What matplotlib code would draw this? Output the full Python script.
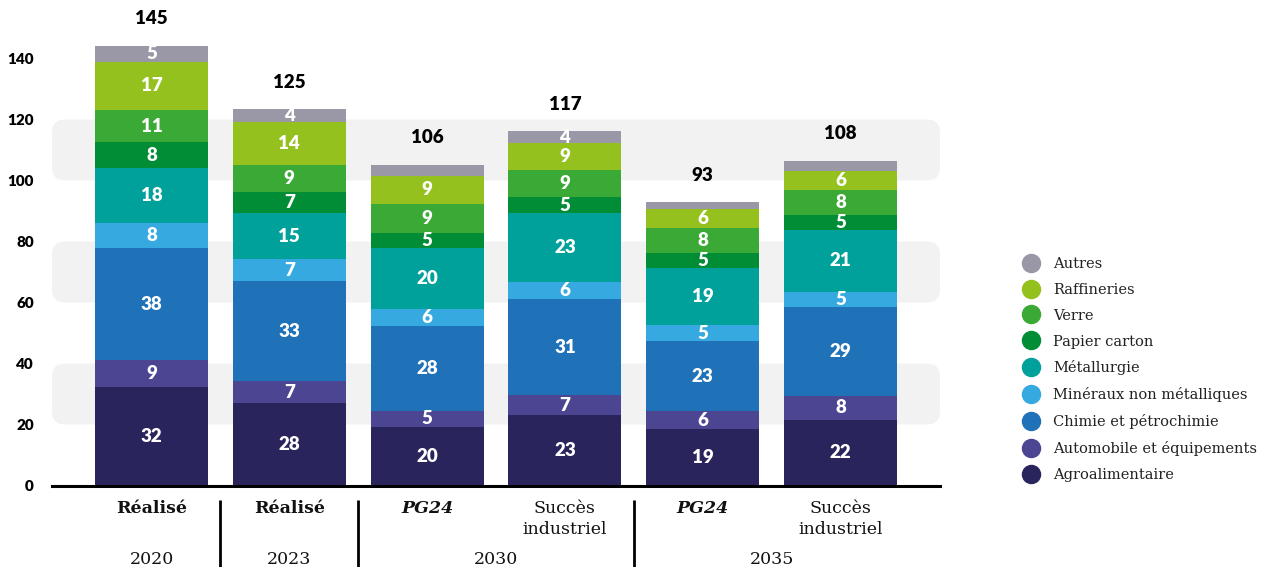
import matplotlib
matplotlib.use("Agg")
import matplotlib.pyplot as plt
from matplotlib.patches import FancyBboxPatch
from matplotlib.lines import Line2D
import matplotlib.transforms as mtransforms

# ---------------- data ----------------
categories = ["Réalisé", "Réalisé", "PG24", "Succès\nindustriel", "PG24", "Succès\nindustriel"]
years = ["2020", "2023", "2030", "2035"]
year_pos = [0, 1, 2.5, 4.5]

series_names = ["Agroalimentaire", "Automobile et équipements", "Chimie et pétrochimie",
                "Minéraux non métalliques", "Métallurgie", "Papier carton", "Verre",
                "Raffineries", "Autres"]
colors = ["#2a245c", "#4b4592", "#1f71b8", "#36a9e1", "#00a19a", "#008d36",
          "#3ba935", "#95c11f", "#9a98a6"]

agro = [32.2, 27.2, 19.3, 23.0, 18.4, 21.6]
auto = [8.8, 6.9, 5.2, 6.6, 5.9, 7.9]
chimie = [36.8, 33.1, 27.9, 31.5, 23.0, 28.9]
mineraux = [8.2, 6.9, 5.6, 5.6, 5.2, 5.2]
metal = [18.0, 15.1, 20.0, 22.6, 18.7, 20.3]
papier = [8.5, 6.9, 4.9, 5.2, 4.9, 4.9]
verre = [10.7, 8.9, 9.5, 8.9, 8.2, 8.2]
raff = [15.7, 14.2, 9.1, 8.8, 6.2, 6.2]
autres = [5.2, 4.2, 3.7, 4.0, 2.3, 3.3]

agro_lbl = [32, 28, 20, 23, 19, 22]
auto_lbl = [9, 7, 5, 7, 6, 8]
chimie_lbl = [38, 33, 28, 31, 23, 29]
mineraux_lbl = [8, 7, 6, 6, 5, 5]
metal_lbl = [18, 15, 20, 23, 19, 21]
papier_lbl = [8, 7, 5, 5, 5, 5]
verre_lbl = [11, 9, 9, 9, 8, 8]
raff_lbl = [17, 14, 9, 9, 6, 6]
autres_lbl = [5, 4, None, 4, None, None]
totals = [145, 125, 106, 117, 93, 108]

yticks = [0, 20, 40, 60, 80, 100, 120, 140]
bands = [(20, 40), (60, 80), (100, 120)]

series = [agro, auto, chimie, mineraux, metal, papier, verre, raff, autres]
labels = [agro_lbl, auto_lbl, chimie_lbl, mineraux_lbl, metal_lbl, papier_lbl,
          verre_lbl, raff_lbl, autres_lbl]

# ---------------- figure ----------------
NUM = "Lato"
SERIF = "DejaVu Serif"

fig = plt.figure(figsize=(12.69, 5.67), dpi=100)
ax = fig.add_axes([52 / 1269, 81.5 / 567, (940 - 52) / 1269, 472.75 / 567])
x = list(range(len(categories)))
XMIN, XMAX = -0.722, 5.722
ax.set_xlim(XMIN, XMAX)
ax.set_ylim(0, 155)

# background bands with rounded corners
rad_x = 13 / 137.8
rad_y = 13 / 3.05
for lo, hi in bands:
    p = FancyBboxPatch((XMIN, lo), XMAX - XMIN, hi - lo,
                       boxstyle=f"round,pad=0,rounding_size={rad_x}",
                       mutation_aspect=rad_y / rad_x,
                       facecolor="#f2f2f2", edgecolor="none", zorder=0)
    ax.add_patch(p)

# stacked bars
bottom = [0.0] * len(x)
for vals, lbls, col, name in zip(series, labels, colors, series_names):
    ax.bar(x, vals, width=0.82, bottom=bottom, color=col, label=name, zorder=2)
    for i, (v, l) in enumerate(zip(vals, lbls)):
        if l is not None:
            ax.text(x[i], bottom[i] + v / 2, str(l), ha="center", va="center",
                    color="white", fontsize=13.5, fontweight="heavy", family=NUM, zorder=3)
    bottom = [b + v for b, v in zip(bottom, vals)]

# totals
for i, t in enumerate(totals):
    ax.annotate(str(t), xy=(x[i], bottom[i]), xytext=(0, 19.5), textcoords="offset points",
                ha="center", va="center", fontsize=13.5, fontweight="heavy",
                family=NUM, color="black")

# axes styling
for s in ["top", "right", "left"]:
    ax.spines[s].set_visible(False)
ax.spines["bottom"].set_linewidth(2.2)
ax.spines["bottom"].set_color("black")
ax.set_yticks(yticks)
ax.set_yticklabels([str(t) for t in yticks], fontsize=11, fontweight="heavy", family=NUM)
ax.tick_params(axis="y", length=0, pad=13)
ax.set_xticks(x)
ax.set_xticklabels(categories, family=SERIF, fontsize=12.5, linespacing=1.3)
ax.tick_params(axis="x", length=0, pad=10.5)
for lab, cat in zip(ax.get_xticklabels(), categories):
    lab.set_color("#111111")
    if cat == "Réalisé":
        lab.set_fontweight("bold")
    elif cat == "PG24":
        lab.set_fontweight("bold")
        lab.set_fontstyle("italic")

# years row
trans = mtransforms.blended_transform_factory(ax.transData, ax.transAxes)
for yp, yr in zip(year_pos, years):
    ax.text(yp, -(559 - 485.5) / 472.75, yr, transform=trans, ha="center", va="center",
            family=SERIF, fontsize=12.5, color="#111111")

# separators
for sx in [0.5, 1.5, 3.5]:
    ax.plot([sx, sx], [-(500 - 485.5) / 472.75, -(567 - 485.5) / 472.75], transform=trans,
            color="black", linewidth=2, clip_on=False, solid_capstyle="butt")

# legend
handles = [Line2D([], [], marker="o", linestyle="", markersize=13, color=c)
           for c in colors]
leg = fig.legend(handles[::-1], series_names[::-1], loc="center left",
                 bbox_to_anchor=(1024 / 1269, (567 - 369.5) / 567), frameon=False,
                 prop={"family": SERIF, "size": 10.5}, handlelength=1.0,
                 handletextpad=1.0, labelspacing=0.82, borderpad=0, borderaxespad=0)
for t in leg.get_texts():
    t.set_color("#222222")

fig.savefig("out.png", dpi=100)
